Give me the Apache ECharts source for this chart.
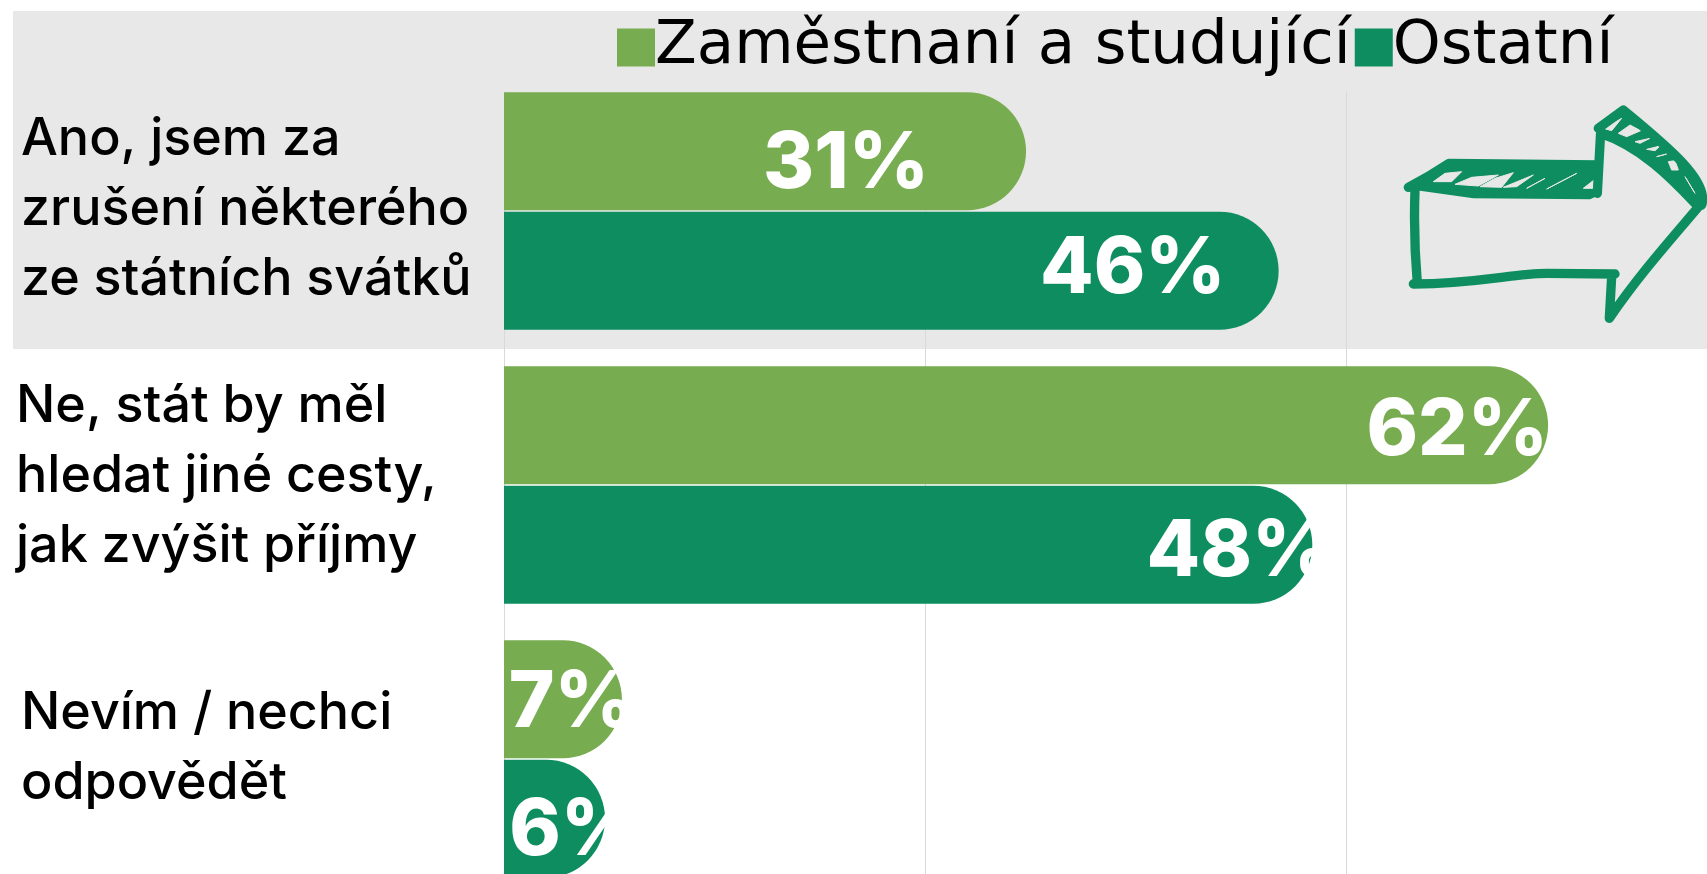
<!DOCTYPE html>
<html>
<head>
<meta charset="utf-8">
<style>
  html, body { margin: 0; padding: 0; background: #fff; }
  #chart { width: 1707px; height: 874px; }
</style>
<script src="https://cdn.jsdelivr.net/npm/echarts@6/dist/echarts.min.js"></script>
</head>
<body>
<div id="chart"></div>
<script>
var categories = [
  'Ano, jsem za\nzrušení některého\nze státních svátků',
  'Ne, stát by měl\nhledat jiné cesty,\njak zvýšit příjmy',
  'Nevím / nechci\nodpovědět'
]
var seriesNames = ['Zaměstnaní a studující', 'Ostatní']
var employed = [31, 62, 7]
var others = [46, 48, 6]

var lightGreen = '#78AC50'
var darkGreen = '#0E8E60'
var bandGrey = '#E8E8E8'

// label shift from the bar end, the source chart placed them by hand
function barItems(values, shifts) {
  return values.map(function(v, i) {
    return { value: v, label: { offset: shifts[i] }}
  })
}

function barSeries(name, color, values, shifts) {
  return {
    name: name,
    type: 'bar',
    barWidth: 118,
    barGap: '1.3%',
    itemStyle: { color: color, borderRadius: [0, 59, 59, 0] },
    label: {
      show: true,
      position: 'insideRight',
      distance: 0,
      formatter: '{c}%',
      color: '#fff',
      fontFamily: 'Inter',
      fontWeight: 800,
      fontSize: 78
    },
    data: barItems(values, shifts)
  }
}

// item styles are not merged with axisLabel for align, so repeat it
function categoryItem(name, padding) {
  return { value: name, textStyle: { align: 'left', verticalAlign: 'middle', padding: padding }}
}

// hand drawn arrow in the top right corner
var arrowOutline = 'M85 292 Q150 258 207 220 L655 225 M105 300 Q100 440 112 580 M100 582 C300 580 400 550 500 550 L705 552 ' +
  'M695 560 L688 685 C780 550 880 440 960 345 M655 115 L730 60 C850 160 990 270 965 345 M662 125 L652 310 M662 130 C780 170 870 260 945 340'
var arrowBand = 'M90 290 L205 222 L655 225 L660 310 L630 325 L280 322 L110 298 Z M655 115 L730 60 C850 160 990 270 965 345 L945 340 C870 260 780 170 662 135 Z'
var arrowHatch = 'M160 275 L195 250 L245 245 L215 275 Z M225 283 L275 262 L355 255 L295 288 Z M300 290 L345 265 L400 248 L365 292 Z M370 292 L460 255 L410 290 Z ' +
  'M440 295 L495 265 Z M500 297 L590 250 Z M610 295 L642 270 L642 295 Z ' +
  'M670 115 L725 85 L695 122 Z M715 130 L750 105 L782 122 L740 140 Z M765 155 L810 145 L780 160 Z M800 178 L840 168 L825 182 Z M830 200 L860 192 Z M865 215 L885 212 L895 240 L875 240 Z M915 260 L945 310 Z'

echarts.graphic.registerShape('arrowOutline', echarts.graphic.extendPath(arrowOutline))
echarts.graphic.registerShape('arrowBand', echarts.graphic.extendPath(arrowBand))
echarts.graphic.registerShape('arrowHatch', echarts.graphic.extendPath(arrowHatch))

var chart = echarts.init(document.getElementById('chart'))
chart.setOption({
  animation: false,
  backgroundColor: '#fff',
  legend: {
    left: 617,
    top: 17,
    padding: 0,
    icon: 'rect',
    itemWidth: 38,
    itemHeight: 38,
    itemGap: 4,
    data: seriesNames,
    textStyle: {
      fontFamily: 'DejaVu Sans',
      fontSize: 61,
      color: '#000',
      padding: [0, 0, 0, -5]
    }
  },
  grid: { left: 504, top: 74, width: 1684, height: 822, outerBoundsMode: 'none' },
  xAxis: {
    type: 'value',
    min: 0,
    max: 100,
    interval: 25,
    axisLabel: { show: false },
    axisLine: { show: false },
    axisTick: { show: false },
    splitLine: { lineStyle: { color: '#D9D9D9', width: 1 }}
  },
  yAxis: {
    type: 'category',
    inverse: true,
    data: [
      categoryItem(categories[0], [0, 0, 0, 0]),
      categoryItem(categories[1], [0, 0, 0, -5]),
      categoryItem(categories[2], [0, 0, 0, 0])
    ],
    axisLine: { show: false },
    axisTick: { show: false },
    axisLabel: {
      margin: 483,
      color: '#000',
      fontFamily: 'Inter',
      fontWeight: 500,
      fontSize: 52,
      lineHeight: 70,
      // empty last line lifts the text block off the bar centre
      formatter: function(value, index) {
        return value + '\n{gap' + index + '| }'
      },
      rich: {
        gap0: { fontSize: 1, lineHeight: 4 },
        gap1: { fontSize: 1, lineHeight: 18 },
        gap2: { fontSize: 1, lineHeight: 22 }
      }
    }
  },
  graphic: [
    { type: 'rect', z: -1, shape: { x: 13, y: 11, width: 1694, height: 338 }, style: { fill: bandGrey }},
    // gridlines start at the top of the first bar
    { type: 'rect', z: 1, shape: { x: 500, y: 70, width: 1207, height: 22 }, style: { fill: bandGrey }},
    { type: 'arrowBand', z: 3, x: 1380, y: 90, scaleX: 1 / 3, scaleY: 1 / 3, style: { fill: darkGreen, stroke: darkGreen, lineWidth: 6 }},
    { type: 'arrowHatch', z: 4, x: 1380, y: 90, scaleX: 1 / 3, scaleY: 1 / 3, style: { fill: bandGrey, stroke: bandGrey, lineWidth: 3 }},
    { type: 'arrowOutline', z: 5, x: 1380, y: 90, scaleX: 1 / 3, scaleY: 1 / 3, style: { fill: 'none', stroke: darkGreen, lineWidth: 28, lineCap: 'round', lineJoin: 'round' }}
  ],
  series: [
    barSeries(seriesNames[0], lightGreen, employed, [[-97, 13], [0, 6], [13, 4]]),
    barSeries(seriesNames[1], darkGreen, others, [[-53, -1], [20, 8], [36, 13]])
  ]
})
</script>
</body>
</html>
